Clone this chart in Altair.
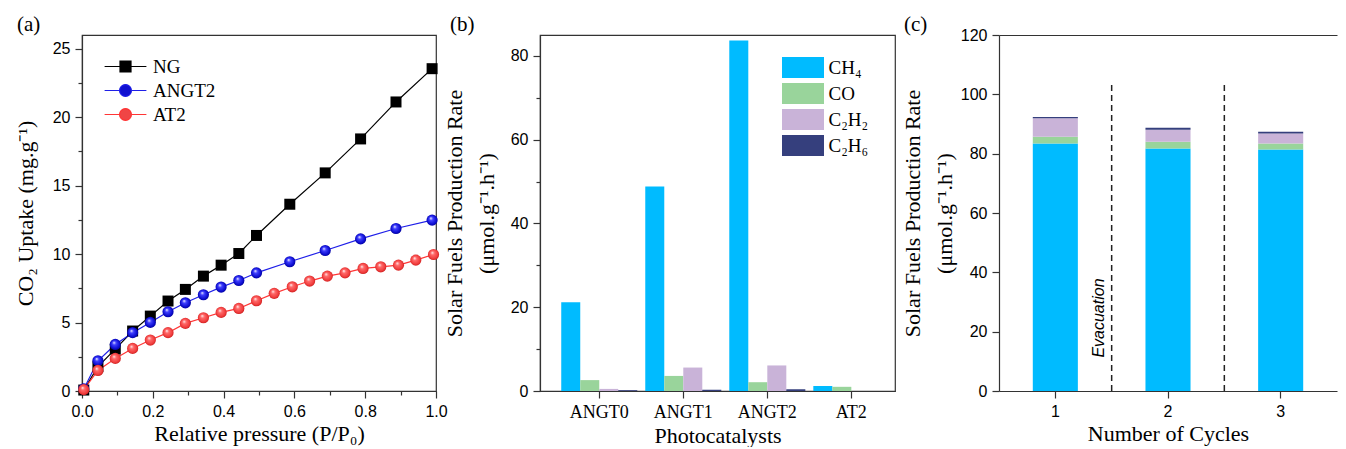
import altair as alt
import pandas as pd

# ---------------- data: (a) CO2 uptake ----------------
series_names = ["NG", "ANGT2", "AT2"]
ng_p = [0.005, 0.045, 0.094, 0.143, 0.193, 0.243, 0.292, 0.343, 0.393, 0.443, 0.493, 0.587, 0.687, 0.787, 0.887, 0.989]
ng_u = [0.07, 1.78, 3.06, 4.38, 5.47, 6.57, 7.42, 8.39, 9.19, 10.04, 11.36, 13.64, 15.93, 18.41, 21.11, 23.54]
angt2_p = [0.005, 0.045, 0.094, 0.143, 0.193, 0.243, 0.292, 0.343, 0.393, 0.443, 0.493, 0.587, 0.687, 0.787, 0.887, 0.989]
angt2_u = [0.15, 2.21, 3.40, 4.26, 5.01, 5.79, 6.44, 7.03, 7.59, 8.07, 8.63, 9.44, 10.26, 11.11, 11.87, 12.48]
at2_p = [0.005, 0.045, 0.094, 0.143, 0.193, 0.243, 0.292, 0.343, 0.393, 0.443, 0.493, 0.543, 0.594, 0.643, 0.693, 0.743, 0.794, 0.844, 0.894, 0.943, 0.993]
at2_u = [0.1, 1.5, 2.38, 3.11, 3.72, 4.26, 4.94, 5.35, 5.74, 6.03, 6.59, 7.13, 7.61, 8.03, 8.39, 8.63, 8.95, 9.07, 9.19, 9.56, 9.97]

# ---------------- data: (b) production rates ----------------
catalysts = ["ANGT0", "ANGT1", "ANGT2", "AT2"]
products = ["CH₄", "CO", "C₂H₂", "C₂H₆"]
ch4_b = [21.2, 48.8, 83.7, 1.2]
co_b = [2.6, 3.6, 2.1, 1.0]
c2h2_b = [0.5, 5.6, 6.1, 0.0]
c2h6_b = [0.2, 0.3, 0.4, 0.0]

# ---------------- data: (c) cycling ----------------
cycles = ["1", "2", "3"]
ch4_c = [83.4, 81.7, 81.4]
co_c = [2.3, 2.3, 2.0]
c2h2_c = [6.2, 4.1, 3.4]
c2h6_c = [0.5, 0.6, 0.6]
evac_pos = [1.5, 2.5]
evac_top = [104, 104]
evac_label = ["Evacuation"]
evac_label_x = [1.39]
evac_label_y = [24.6]

panel_labels = ["(a)", "(b)", "(c)"]

# ---------------- styles ----------------
SANS = "Liberation Sans"
SERIF = "Liberation Serif"
AXC = "#333333"
line_colors = ["#000000", "#1f1fe8", "#ff3535"]
marker_colors = ["#000000", "#1010d0", "#f04545"]
prod_colors = ["#00bbff", "#99d49b", "#c9b3d8", "#353f7d"]

grad_blue = {"gradient": "radial", "x1": 0.38, "y1": 0.32, "r1": 0, "x2": 0.5, "y2": 0.5, "r2": 0.55,
             "stops": [{"offset": 0, "color": "#ffffff"}, {"offset": 0.3, "color": "#4040ff"},
                       {"offset": 0.75, "color": "#0c0cd0"}, {"offset": 1, "color": "#00008a"}]}
grad_red = {"gradient": "radial", "x1": 0.38, "y1": 0.32, "r1": 0, "x2": 0.5, "y2": 0.5, "r2": 0.55,
            "stops": [{"offset": 0, "color": "#ffffff"}, {"offset": 0.3, "color": "#ff6a6a"},
                      {"offset": 0.75, "color": "#f03c3c"}, {"offset": 1, "color": "#c01515"}]}

sq_path = "M-3.8,0H3.8M-1,-1H1V1H-1Z"
ci_path = "M-3.8,0H-1M1,0H3.8M-1.08,0A1.08,1.08,0,1,1,1.08,0A1.08,1.08,0,1,1,-1.08,0Z"
box_path = "M-2,-1H2V1H-2Z"


def panel_label(txt, dx):
    df = pd.DataFrame({"t": [txt]})
    return alt.Chart(df).mark_text(font=SERIF, fontSize=21, color="black", align="left",
                                   baseline="middle").encode(
        x=alt.value(dx), y=alt.value(-10), text="t:N")


def build(minor=True):
    def tsize(test):
        if minor:
            return {"condition": {"test": test, "value": 4}, "value": 7}
        return 7

    # ---------- panel (a) ----------
    rows = []
    for name, xs, ys in [("NG", ng_p, ng_u), ("ANGT2", angt2_p, angt2_u), ("AT2", at2_p, at2_u)]:
        for xv, yv in zip(xs, ys):
            rows.append({"series": name, "p": xv, "u": yv})
    df_a = pd.DataFrame(rows)

    xa = alt.X("p:Q", scale=alt.Scale(domain=[0, 1], nice=False),
               axis=alt.Axis(values=[round(i * 0.1, 1) for i in range(11)],
                             labelExpr="round(datum.value*10) % 2 == 0 ? format(datum.value, '.1f') : ''",
                             tickSize=tsize("round(datum.value*10) % 2 != 0"),
                             labelFlush=False, labelOverlap=False,
                             title="Relative pressure (P/P₀)"))
    ya = alt.Y("u:Q", scale=alt.Scale(domain=[0, 26], nice=False),
               axis=alt.Axis(values=[i * 2.5 for i in range(11)],
                             labelExpr="datum.value % 5 == 0 ? format(datum.value, 'd') : ''",
                             tickSize=tsize("datum.value % 5 != 0"),
                             labelFlush=False, labelOverlap=False,
                             title="CO₂ Uptake (mg.g⁻¹)", titlePadding=15))
    base_a = alt.Chart(df_a).encode(x=xa, y=ya)
    leg_a = alt.Legend(orient="none", legendX=34, legendY=22, title=None,
                       symbolSize=121, symbolStrokeWidth=1.2, labelFont=SERIF, labelFontSize=19,
                       labelColor="black", labelOffset=18, rowPadding=4, padding=0)
    stroke_scale = alt.Scale(domain=series_names, range=line_colors)
    lines_a = base_a.mark_line(strokeWidth=1.2).encode(
        stroke=alt.Stroke("series:N", scale=stroke_scale, legend=leg_a))
    pts_ng = base_a.transform_filter(alt.datum.series == "NG").mark_point(
        shape="square", filled=True, size=121, color="#000000", opacity=1)
    pts_angt2 = base_a.transform_filter(alt.datum.series == "ANGT2").mark_point(
        shape="circle", filled=True, size=125, fill=grad_blue, opacity=1, strokeWidth=0)
    pts_at2 = base_a.transform_filter(alt.datum.series == "AT2").mark_point(
        shape="circle", filled=True, size=125, fill=grad_red, opacity=1, strokeWidth=0)

    helper_a = base_a.transform_filter("false").mark_point(filled=True, opacity=1).encode(
        fill=alt.Fill("series:N", scale=alt.Scale(domain=series_names, range=marker_colors), legend=leg_a),
        stroke=alt.Stroke("series:N", scale=stroke_scale, legend=leg_a),
        shape=alt.Shape("series:N", scale=alt.Scale(domain=series_names, range=[sq_path, ci_path, ci_path]),
                        legend=leg_a),
    )
    panel_a = alt.layer(lines_a, pts_ng, pts_angt2, pts_at2, helper_a,
                        panel_label(panel_labels[0], -65)).properties(width=354, height=356)

    # ---------- panel (b) ----------
    rows = []
    for pi, (pname, vals) in enumerate(zip(products, [ch4_b, co_b, c2h2_b, c2h6_b])):
        for cat, v in zip(catalysts, vals):
            rows.append({"cat": cat, "prod": pname, "val": v, "k": pi})
    df_b = pd.DataFrame(rows)
    leg_b = alt.Legend(orient="none", legendX=252.5, legendY=22, title=None,
                       symbolType=box_path, symbolSize=441, symbolStrokeWidth=0,
                       labelFont=SERIF, labelFontSize=19, labelColor="black", labelOffset=15,
                       rowPadding=5, padding=0)
    bars_b = alt.Chart(df_b).mark_bar().encode(
        x=alt.X("cat:N", scale=alt.Scale(domain=catalysts, paddingInner=0.095, paddingOuter=0.16, align=0.79),
                axis=alt.Axis(labelAngle=0, labelFont=SERIF, labelFontSize=18, title="Photocatalysts")),
        xOffset=alt.XOffset("prod:N", scale=alt.Scale(domain=products, paddingInner=0, paddingOuter=0)),
        y=alt.Y("val:Q", scale=alt.Scale(domain=[0, 85], nice=False),
                axis=alt.Axis(values=[i * 10 for i in range(9)],
                              labelExpr="datum.value % 20 == 0 ? format(datum.value, 'd') : ''",
                              tickSize=tsize("datum.value % 20 != 0"),
                              labelFlush=False, labelOverlap=False,
                              title=["Solar Fuels Production Rate", "(μmol.g⁻¹.h⁻¹)"],
                              titleLineHeight=32, titlePadding=12)),
        color=alt.Color("prod:N", scale=alt.Scale(domain=products, range=prod_colors), legend=leg_b),
    )
    panel_b = alt.layer(bars_b, panel_label(panel_labels[1], -90)).properties(width=355, height=356)

    # ---------- panel (c) ----------
    rows = []
    for pi, (pname, vals) in enumerate(zip(products, [ch4_c, co_c, c2h2_c, c2h6_c])):
        for cyc, v in zip(cycles, vals):
            rows.append({"cycle": cyc, "prod": pname, "val": v, "k": pi})
    df_c = pd.DataFrame(rows)
    yscale_c = alt.Scale(domain=[0, 120], nice=False)
    bars_c = alt.Chart(df_c).mark_bar().encode(
        x=alt.X("cycle:N", scale=alt.Scale(domain=cycles, paddingInner=0.6, paddingOuter=0.3),
                axis=alt.Axis(labelAngle=0, title="Number of Cycles")),
        y=alt.Y("val:Q", stack="zero", scale=yscale_c,
                axis=alt.Axis(values=[0, 20, 40, 60, 80, 100, 120], labelFlush=False,
                              title=["Solar Fuels Production Rate", "(μmol.g⁻¹.h⁻¹)"],
                              titleLineHeight=32, titlePadding=4)),
        color=alt.Color("prod:N", scale=alt.Scale(domain=products, range=prod_colors), legend=None),
        order=alt.Order("k:Q", sort="ascending"),
    )
    df_r = pd.DataFrame({"pos": evac_pos, "y0": [0, 0], "y1": evac_top})
    rules_c = alt.Chart(df_r).mark_rule(strokeDash=[6, 4], color="#222222", strokeWidth=1.5).encode(
        x=alt.X("pos:Q", scale=alt.Scale(domain=[0.5, 3.5], nice=False),
                axis=alt.Axis(orient="top", labels=False, ticks=False, title=None, grid=False,
                              minExtent=0, maxExtent=0, labelPadding=0, titlePadding=0)),
        y=alt.Y("y0:Q", scale=yscale_c),
        y2="y1:Q",
    )
    df_t = pd.DataFrame({"x": evac_label_x, "y": evac_label_y, "t": evac_label})
    text_c = alt.Chart(df_t).mark_text(angle=270, font=SANS, fontStyle="italic", fontSize=16,
                                       color="black").encode(
        x=alt.X("x:Q", scale=alt.Scale(domain=[0.5, 3.5], nice=False), axis=None),
        y=alt.Y("y:Q", scale=yscale_c),
        text="t:N",
    )
    panel_c = alt.layer(bars_c, rules_c, text_c, panel_label(panel_labels[2], -95)).resolve_scale(
        x="independent").properties(width=338, height=356, view=alt.ViewBackground(stroke="transparent"))

    chart = alt.hconcat(panel_a, panel_b, panel_c, spacing=104, bounds="flush").resolve_scale(
        color="independent", fill="independent", stroke="independent", shape="independent"
    ).resolve_legend(
        color="independent", fill="independent", stroke="independent", shape="independent"
    ).properties(
        padding={"left": 5, "top": 5, "right": 0, "bottom": 0}
    ).configure_view(stroke=AXC, strokeWidth=1.2).configure_axis(
        labelFont=SANS, labelFontSize=16, labelColor="black", titleFont=SERIF, titleFontSize=22,
        titleFontWeight="normal", titleColor="black", domainColor=AXC, tickColor=AXC,
        domainWidth=1.2, tickWidth=1.2, tickSize=7, labelPadding=5, grid=False, titlePadding=4
    )
    return chart


try:
    chart = build(True)
    chart.save("out.html", embed_options={"renderer": "svg", "actions": False})
except Exception:
    chart = build(False)
    chart.save("out.html", embed_options={"renderer": "svg", "actions": False})
